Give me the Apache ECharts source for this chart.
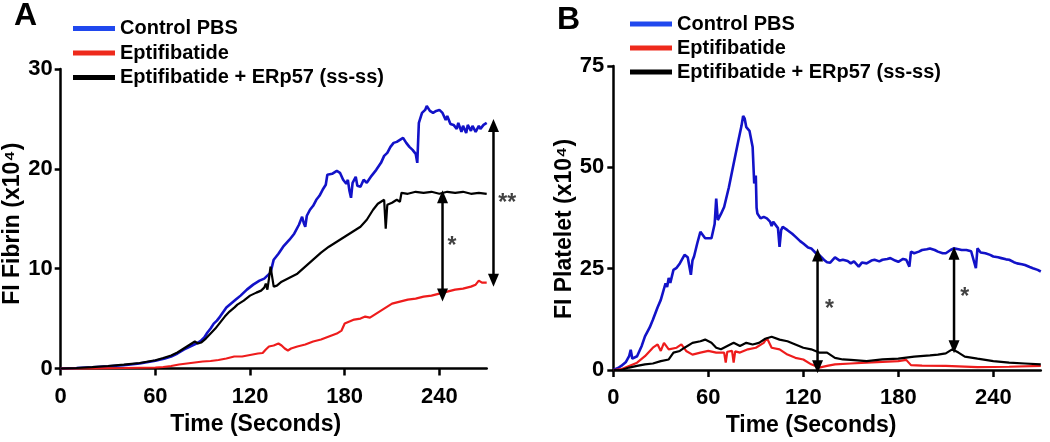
<!DOCTYPE html>
<html>
<head>
<meta charset="utf-8">
<script src="https://cdn.jsdelivr.net/npm/echarts@6/dist/echarts.min.js"></script>
<style>
html,body{margin:0;padding:0;background:#fff;}
#chart{width:1050px;height:442px;}
</style>
</head>
<body>
<div id="chart"></div>
<script>
// ---------- DATA ----------
const seriesNames = ['Control PBS', 'Eptifibatide', 'Eptifibatide + ERp57 (ss-ss)'];
const xTicks = [0, 60, 120, 180, 240];
const fibrinTicks = [0, 10, 20, 30];
const plateletTicks = [0, 25, 50, 75];

// Panel A: FI Fibrin (x10^4) vs time (s)
const fibrinControl = [[0,0],[10,0.05],[20,0.12],[30,0.22],[40,0.33],[50,0.5],[60,0.77],[66,1.0],[70,1.2],[74,1.5],[78,1.9],[82,2.2],[86,2.5],[89,2.8],[91,3.1],[93,3.6],[95,4.0],[97,4.5],[99,4.8],[101,5.2],[105,6.1],[108,6.5],[111,6.9],[114,7.3],[118,7.9],[122,8.4],[126,8.8],[129,9.0],[131,9.3],[133,9.6],[135,10.9],[138,11.5],[141,12.2],[145,12.9],[148,13.5],[151,14.4],[153,15.2],[154,14.6],[155,14.2],[156,15.3],[158,15.9],[160,16.3],[162,16.9],[164,17.3],[166,17.9],[168,18.4],[169,19.4],[172,19.5],[175,19.8],[177,19.6],[179,18.9],[181,18.5],[182,18.9],[183,17.8],[184,17.1],[185,18.6],[187,19.2],[188,18.3],[190,18.2],[192,18.9],[194,18.6],[197,19.3],[200,19.9],[203,20.6],[205,21.3],[207,21.6],[209,22.2],[211,22.6],[213,22.7],[215,22.9],[217,23.1],[219,22.6],[221,22.2],[223,21.9],[225,21.5],[226,20.6],[227,24.6],[229,25.6],[231,25.9],[232,26.3],[234,25.8],[236,25.6],[238,25.8],[240,25.9],[242,25.6],[244,24.9],[245,25.3],[247,24.5],[249,24.4],[251,24.0],[252,24.6],[254,23.7],[255,24.3],[257,23.6],[258,24.4],[260,23.8],[261,24.3],[263,23.7],[265,24.3],[266,24.0],[268,24.4],[270,24.6]];
const fibrinEpti = [[0,0],[20,0.02],[40,0.05],[60,0.1],[65,0.15],[70,0.25],[75,0.4],[80,0.5],[85,0.6],[90,0.7],[95,0.75],[100,0.85],[105,1.0],[110,1.2],[115,1.2],[120,1.35],[125,1.5],[128,1.55],[130,1.9],[132,2.2],[135,2.3],[138,2.5],[140,2.3],[142,2.0],[144,1.8],[146,2.0],[150,2.2],[155,2.4],[160,2.7],[165,2.9],[170,3.2],[175,3.5],[178,3.8],[180,4.5],[183,4.7],[186,4.9],[190,5.0],[193,5.2],[196,5.1],[200,5.5],[205,6.0],[210,6.5],[215,6.7],[220,6.9],[225,7.0],[230,7.2],[235,7.3],[240,7.5],[245,7.7],[250,7.9],[255,8.0],[260,8.2],[263,8.4],[265,8.8],[267,8.6],[270,8.6]];
const fibrinEptiErp = [[0,0],[10,0.05],[20,0.13],[30,0.25],[40,0.38],[50,0.55],[60,0.83],[65,1.05],[70,1.3],[74,1.6],[78,2.0],[82,2.4],[85,2.7],[87,2.5],[89,2.6],[90,2.4],[92,3.0],[95,3.5],[98,4.0],[100,4.4],[104,5.2],[107,5.7],[110,6.1],[112,6.4],[116,6.8],[120,7.3],[124,7.6],[127,7.8],[129,8.1],[130,8.5],[131,7.9],[132,9.0],[133,10.2],[134,10.0],[135,8.2],[137,8.3],[140,8.7],[145,9.1],[150,9.5],[155,10.2],[160,10.9],[165,11.6],[170,12.2],[175,12.7],[180,13.2],[185,13.7],[190,14.2],[194,14.9],[198,15.9],[201,16.5],[203,16.7],[205,16.9],[206,14.0],[207,16.4],[210,16.6],[213,16.9],[215,16.7],[216,17.6],[220,17.5],[225,17.7],[230,17.6],[235,17.7],[240,17.5],[245,17.7],[250,17.6],[255,17.7],[260,17.5],[265,17.6],[270,17.5]];

// Panel B: FI Platelet (x10^4) vs time (s)
const plateletControl = [[0,0],[3,0.5],[5,1.0],[8,2.0],[10,3.4],[11,5.0],[12,2.8],[15,3.4],[18,6.0],[20,8.3],[23,10.5],[25,12.4],[28,15.5],[30,17.3],[33,21.4],[34,20.5],[35,22.7],[36,21.5],[38,24.7],[40,25.2],[42,26.3],[45,28.4],[47,27.8],[48,27.6],[49,23.5],[50,27.0],[51,28.0],[53,31.2],[55,34.1],[56,34.4],[58,32.5],[62,32.5],[64,36.0],[65,42.3],[66,37.0],[68,38.5],[70,40.2],[73,45.1],[76,50.9],[79,56.6],[81,60.3],[82,62.7],[83,62.0],[84,59.9],[85,60.2],[86,59.0],[88,55.0],[89,46.0],[90,48.0],[90.5,40.0],[91,38.6],[93,37.4],[95,37.8],[97,37.4],[99,36.6],[100,35.5],[101,36.6],[102,37.0],[104,35.0],[105,30.4],[106,34.5],[107,35.3],[110,34.5],[113,33.6],[115,32.9],[118,31.8],[120,31.2],[123,30.2],[125,30.0],[128,28.8],[130,28.4],[133,27.2],[135,26.6],[137,26.5],[140,27.8],[143,27.0],[145,27.2],[148,26.9],[150,26.3],[152,26.8],[155,25.5],[157,26.5],[160,26.3],[163,27.0],[165,27.2],[168,26.8],[170,27.2],[173,27.4],[175,27.6],[178,27.0],[180,26.7],[183,27.4],[185,27.2],[187,25.5],[188,29.2],[190,28.8],[193,29.2],[195,29.6],[198,29.8],[200,30.0],[203,29.6],[205,29.2],[208,28.8],[210,28.8],[213,29.6],[215,30.0],[218,29.8],[220,29.6],[223,29.6],[226,29.3],[229,25.1],[230,30.0],[232,29.0],[235,28.8],[238,28.4],[240,28.0],[243,27.8],[245,27.6],[248,27.3],[250,27.2],[253,26.6],[255,26.3],[258,26.1],[260,25.9],[263,25.4],[265,25.1],[268,24.7],[270,24.3]];
const plateletEpti = [[0,0],[5,0.2],[10,1.0],[15,1.8],[20,3.4],[25,5.5],[28,6.3],[30,4.7],[32,6.7],[35,5.1],[40,5.5],[43,6.3],[46,4.7],[50,3.8],[55,4.3],[60,4.7],[65,4.3],[70,4.3],[71,1.8],[72,4.5],[75,4.7],[76,1.8],[77,4.6],[80,4.3],[85,5.1],[90,5.5],[95,6.7],[97,7.9],[100,5.5],[105,5.1],[110,3.8],[115,3.0],[120,2.6],[125,1.4],[130,0.6],[135,1.0],[140,1.4],[150,1.6],[160,1.8],[170,2.0],[180,2.2],[185,2.5],[188,1.2],[195,1.1],[210,1.0],[230,0.7],[250,0.8],[270,1.0]];
const plateletEptiErp = [[0,0],[5,0],[10,0.6],[15,1.0],[20,1.4],[25,1.6],[30,2.2],[35,2.6],[38,4.3],[42,4.7],[45,5.5],[50,6.7],[55,7.1],[58,7.5],[62,6.7],[65,5.5],[68,5.1],[72,5.9],[76,6.7],[80,5.9],[84,6.7],[88,6.3],[92,6.7],[96,7.7],[100,8.2],[105,7.5],[110,7.1],[115,6.3],[120,5.5],[125,5.1],[130,4.3],[135,4.3],[140,3.0],[145,2.6],[150,2.5],[160,2.2],[170,2.6],[180,2.8],[190,3.3],[200,3.6],[205,3.8],[210,4.1],[214,5.1],[218,4.3],[222,3.3],[230,2.8],[240,2.2],[250,1.8],[260,1.6],[270,1.4]];

// Significance arrows: [time, upper value, lower value, label, labelTime, labelValue]
const fibrinArrows = [[242, 17.2, 7.35, '*', 248, 12.2], [274.3, 24.35, 8.85, '**', 283, 16.5]];
const plateletArrows = [[129, 28.4, 0.8, '*', 136.5, 14.8], [215.2, 28.8, 5.75, '*', 222, 17.8]];

// ---------- STYLE ----------
const FONT = 'Liberation Sans, Arial, sans-serif';
const colors = ['#1212c8', '#ee1c1c', '#000000'];
const legendColors = ['#2048ee', '#ee2a1c', '#000000'];

// plot geometry (pixels)
const gridA = {left: 60.7, top: 69, width: 426, height: 299.5};
const gridB = {left: 613.3, top: 66, width: 427.5, height: 304};
const xMax = 270, annotXMax = 290;

const chart = echarts.init(document.getElementById('chart'), null, {renderer: 'canvas'});

function xAxisDef(gridIndex, padRight, gap) {
  return {
    type: 'value', gridIndex, min: 0, max: xMax,
    name: 'Time (Seconds)', nameLocation: 'middle', nameGap: gap,
    nameTextStyle: {fontSize: 23, fontWeight: 'bold', color: '#000', fontFamily: FONT, padding: [0, padRight, 0, 0]},
    axisLine: {show: true, lineStyle: {color: '#000', width: 2.5}},
    axisTick: {show: true, length: 7, lineStyle: {color: '#000', width: 2.5}, customValues: xTicks},
    axisLabel: {fontSize: 22, fontWeight: 'bold', color: '#000', fontFamily: FONT, margin: 17, customValues: xTicks},
    splitLine: {show: false}
  };
}
function yAxisDef(gridIndex, max, interval, ticks, name, gap, pad, margin) {
  return {
    type: 'value', gridIndex, min: 0, max, interval,
    name, nameLocation: 'middle', nameGap: gap,
    nameTextStyle: {fontSize: 23, fontWeight: 'bold', color: '#000', fontFamily: FONT, padding: pad},
    axisLine: {show: true, lineStyle: {color: '#000', width: 2.5}},
    axisTick: {show: true, length: 6, lineStyle: {color: '#000', width: 2.5}, customValues: ticks},
    axisLabel: {fontSize: 22, fontWeight: 'bold', color: '#000', fontFamily: FONT, margin, customValues: ticks},
    splitLine: {show: false}
  };
}
function lineSeries(name, data, xi, yi, color, width) {
  return {
    name, type: 'line', data, xAxisIndex: xi, yAxisIndex: yi,
    showSymbol: false, symbol: 'none', clip: false,
    lineStyle: {color, width}, itemStyle: {color}, z: 2
  };
}
// double-headed arrow drawn as a 2-point line with triangle end symbols
function arrowSeries(a, xi, yi) {
  return {
    type: 'line', xAxisIndex: xi, yAxisIndex: yi, clip: false, silent: true,
    symbol: 'triangle', symbolSize: [11, 13], showSymbol: true, showAllSymbol: true,
    lineStyle: {color: '#000', width: 2.5}, itemStyle: {color: '#000'}, z: 4,
    data: [
      {value: [a[0], a[1]], symbolRotate: 0},
      {value: [a[0], a[2]], symbolRotate: 180}
    ]
  };
}
function starSeries(arrows, xi, yi) {
  return {
    type: 'scatter', xAxisIndex: xi, yAxisIndex: yi, clip: false, silent: true,
    symbol: 'circle', symbolSize: 1, itemStyle: {color: 'rgba(0,0,0,0)'},
    data: arrows.map(a => ({value: [a[4], a[5]], label: {formatter: a[3]}})),
    label: {show: true, position: 'inside', fontSize: 23, fontWeight: 'bold', color: '#111', fontFamily: FONT}
  };
}
function legendDef(left, top, gap) {
  return {
    orient: 'vertical', left, top, padding: 0, itemGap: gap, itemWidth: 42, itemHeight: 5, icon: 'rect',
    selectedMode: false,
    textStyle: {fontSize: 20, fontWeight: 'bold', color: '#000', fontFamily: FONT, lineHeight: 20},
    data: seriesNames.map((n, i) => ({name: n, itemStyle: {color: legendColors[i]}}))
  };
}

const series = [
  lineSeries(seriesNames[0], fibrinControl, 0, 0, colors[0], 2.6),
  lineSeries(seriesNames[1], fibrinEpti, 0, 0, colors[1], 2.2),
  lineSeries(seriesNames[2], fibrinEptiErp, 0, 0, colors[2], 2.2),
  starSeries(fibrinArrows, 2, 2),
  lineSeries(seriesNames[0], plateletControl, 1, 1, colors[0], 2.6),
  lineSeries(seriesNames[1], plateletEpti, 1, 1, colors[1], 2.2),
  lineSeries(seriesNames[2], plateletEptiErp, 1, 1, colors[2], 2.2),
  starSeries(plateletArrows, 1, 1)
];
fibrinArrows.forEach(a => series.push(arrowSeries(a, 2, 2)));
plateletArrows.forEach(a => series.push(arrowSeries(a, 1, 1)));

chart.setOption({
  animation: false,
  backgroundColor: '#fff',
  textStyle: {fontFamily: FONT},
  title: [
    {text: 'A', left: 14, top: 0, padding: 0, textStyle: {fontSize: 32, fontWeight: 'bold', color: '#000', fontFamily: FONT}},
    {text: 'B', left: 557, top: 4, padding: 0, textStyle: {fontSize: 32, fontWeight: 'bold', color: '#000', fontFamily: FONT}}
  ],
  legend: [legendDef(73, 18.5, 4.5), legendDef(630, 14, 4)],
  grid: [
    gridA,
    gridB,
    // annotation grid for panel A: same scale as grid A, extended to the right for the outside arrow
    {left: gridA.left, top: gridA.top, height: gridA.height, width: gridA.width * annotXMax / xMax}
  ],
  xAxis: [
    xAxisDef(0, 36, 45),
    xAxisDef(1, 32, 43),
    {type: 'value', gridIndex: 2, min: 0, max: annotXMax, show: false}
  ],
  yAxis: [
    yAxisDef(0, 30, 10, fibrinTicks, 'FI Fibrin (x10⁴)', 33, [0, 10, 0, 0], 8),
    yAxisDef(1, 75, 25, plateletTicks, 'FI Platelet (x10⁴)', 37, [0, 22, 0, 0], 9),
    {type: 'value', gridIndex: 2, min: 0, max: 30, show: false}
  ],
  series
});
</script>
</body>
</html>
